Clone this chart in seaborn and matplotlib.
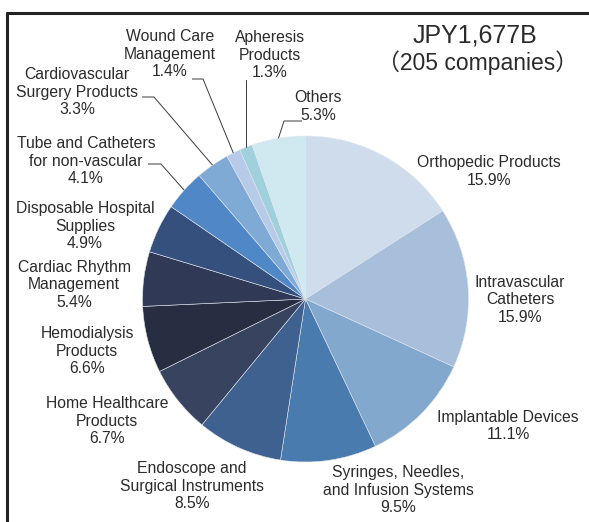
import matplotlib
matplotlib.use("Agg")
import matplotlib.pyplot as plt
import seaborn as sns
import numpy as np

# Sales share by product category (clockwise from 12 o'clock)
categories = [
    "Orthopedic Products",
    "Intravascular\nCatheters",
    "Implantable Devices",
    "Syringes, Needles,\nand Infusion Systems",
    "Endoscope and\nSurgical Instruments",
    "Home Healthcare\nProducts",
    "Hemodialysis\nProducts",
    "Cardiac Rhythm\nManagement",
    "Disposable Hospital\nSupplies",
    "Tube and Catheters\nfor non-vascular",
    "Cardiovascular\nSurgery Products",
    "Wound Care\nManagement",
    "Apheresis\nProducts",
    "Others",
]
shares = [15.9, 15.9, 11.1, 9.5, 8.5, 6.7, 6.6, 5.4, 4.9, 4.1, 3.3, 1.4, 1.3, 5.3]
colors = [
    "#cfdcec", "#a7bfda", "#83a8cd", "#4a7bae", "#3f6190", "#38445f", "#282e42",
    "#303a56", "#36507d", "#4f87c7", "#80aad6", "#b7cae7", "#9fd0db", "#d0e8ef",
]
total_label = "JPY1,677B"
count_label = "（205 companies）"

sns.set_style("white")
plt.rcParams["font.family"] = ["Liberation Sans", "Noto Sans CJK JP", "DejaVu Sans"]

W, H = 589, 522
fig = plt.figure(figsize=(W / 100, H / 100), dpi=100)
ax = fig.add_axes([0, 0, 1, 1])

def Y(y):
    return H - y

center = (305.5, Y(299))
radius = 163
wedges, _ = ax.pie(
    shares, colors=colors, startangle=90, counterclock=False,
    center=center, radius=radius,
    wedgeprops=dict(edgecolor="#dfe6ef", linewidth=0.4),
)
ax.set_xlim(0, W)
ax.set_ylim(0, H)
ax.set_aspect("auto")
ax.axis("off")

txt_color = "#2b2b2b"
fs = 11.3

# label text positions (pixel coords, top-left origin)
label_pos = [
    (489, 171.5), (520, 300), (508, 426), (398, 490), (192, 486),
    (107, 421), (87, 351), (74, 285), (85, 226), (86, 161),
    (77, 92), (170, 54), (270, 55), (318, 106.5),
]
for name, val, (x, y) in zip(categories, shares, label_pos):
    ax.text(x, Y(y), f"{name}\n{val:.1f}%", ha="center", va="center",
            multialignment="center", fontsize=fs, color=txt_color, linespacing=1.22)

def wedge_mid(w):
    ang = np.deg2rad((w.theta1 + w.theta2) / 2)
    return w.center[0] + w.r * np.cos(ang), w.center[1] + w.r * np.sin(ang)

# leader lines for the small slices
leaders = {
    9: [(148, 164), (161, 164)],
    10: [(142, 97), (154, 97)],
    11: [(192, 79), (203, 79)],
    13: [(302, 121), (284, 121)],
}
for idx, pts in leaders.items():
    mx, my = wedge_mid(wedges[idx])
    xs = [p[0] for p in pts] + [mx]
    ys = [Y(p[1]) for p in pts] + [my]
    ax.plot(xs, ys, color="#3a3a3a", lw=0.7, solid_capstyle="butt")
mx, my = wedge_mid(wedges[12])
ax.plot([mx, mx], [Y(80), my], color="#3a3a3a", lw=0.7)

ax.text(475, Y(35), total_label, ha="center", va="center", fontsize=18, color=txt_color)
ax.text(478, Y(63), count_label, ha="center", va="center", fontsize=16.5, color=txt_color)

# frame
ax.plot([6.5, W + 5], [Y(12.5), Y(12.5)], color="#222222", lw=2.2, clip_on=False)
ax.plot([6.5, 6.5], [Y(12.5), -5], color="#222222", lw=2.2, clip_on=False)

fig.savefig("out.png", dpi=100)
